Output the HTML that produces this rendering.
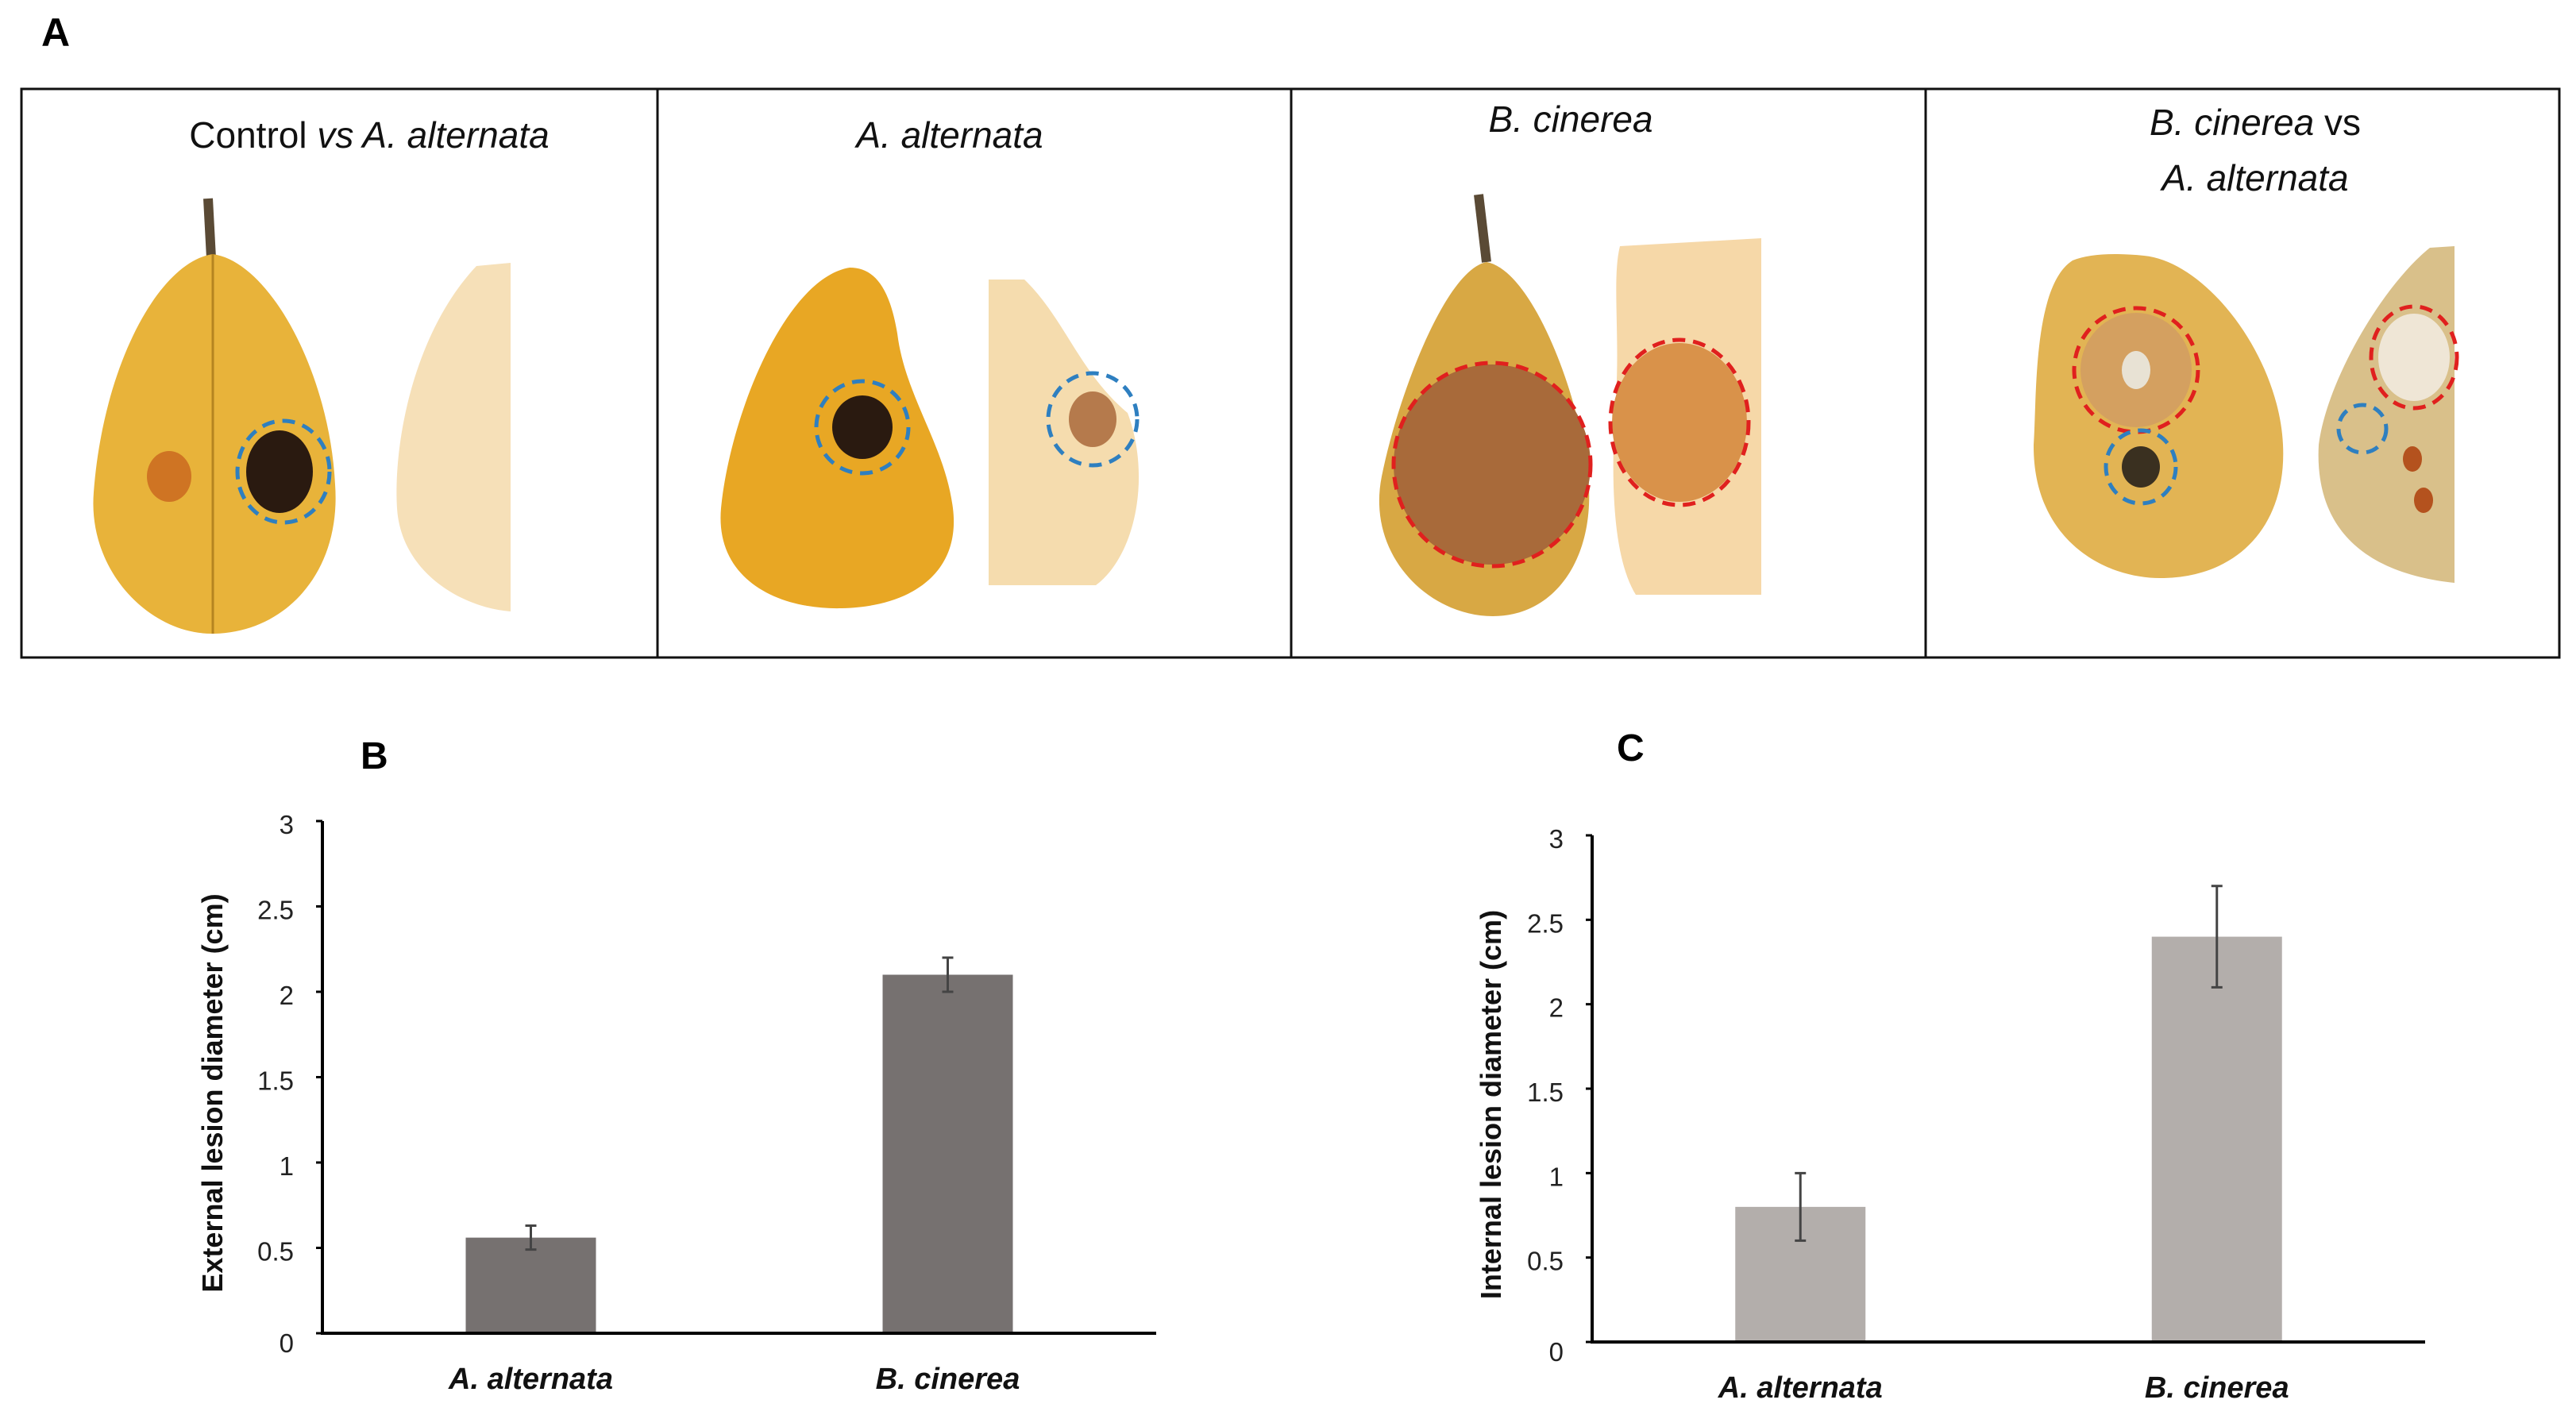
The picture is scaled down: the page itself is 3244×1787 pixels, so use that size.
<!DOCTYPE html>
<html><head><meta charset="utf-8"><style>
html,body{margin:0;padding:0;background:#fff;}
body{width:3244px;height:1782px;overflow:hidden;position:relative;font-family:"Liberation Sans",sans-serif;}
</style></head><body>
<svg id="fig" width="3244" height="1782" viewBox="0 0 3244 1782" xmlns="http://www.w3.org/2000/svg" font-family="Liberation Sans, sans-serif">
<text x="52" y="58" font-size="50" font-weight="bold">A</text>
<g fill="none" stroke="#111" stroke-width="3">
<rect x="27" y="112" width="3196" height="716"/>
<line x1="828" y1="112" x2="828" y2="828"/><line x1="1626" y1="112" x2="1626" y2="828"/><line x1="2425" y1="112" x2="2425" y2="828"/>
</g>
<g font-size="46" fill="#111" text-anchor="middle">
<text x="465" y="186">Control <tspan font-style="italic">vs  A. alternata</tspan></text>
<text x="1196" y="186" font-style="italic">A. alternata</text>
<text x="1978" y="166" font-style="italic">B. cinerea</text>
<text x="2840" y="170"><tspan font-style="italic">B. cinerea</tspan> vs</text>
<text x="2840" y="240" font-style="italic">A. alternata</text>
</g>
<g>
<path d="M262 250 L266 325" stroke="#5a4a35" stroke-width="12" fill="none"/>
<path d="M268 320 C200 330 130 460 118 620 C110 720 190 800 270 798 C360 796 430 720 422 610 C415 470 340 330 268 320Z" fill="#e8b33a"/>
<line x1="268" y1="320" x2="268" y2="798" stroke="#b58420" stroke-width="3"/>
<ellipse cx="213" cy="600" rx="28" ry="32" fill="#c8641e" opacity="0.8"/>
<ellipse cx="352" cy="594" rx="42" ry="52" fill="#2a1a10"/>
<ellipse cx="357" cy="594" rx="58" ry="64" fill="none" stroke="#2e7fc0" stroke-width="5" stroke-dasharray="16 10"/>
<path d="M643 331 L600 335 C520 420 495 560 500 640 C505 720 580 765 643 770Z" fill="#f6e0b8"/>
</g>
<g>
<path d="M1070 337 C990 350 920 520 908 640 C900 730 980 768 1060 766 C1150 764 1210 720 1200 640 C1190 560 1140 500 1130 420 C1120 360 1100 337 1070 337Z" fill="#e8a724"/>
<ellipse cx="1086" cy="538" rx="38" ry="40" fill="#2a1a10"/>
<ellipse cx="1086" cy="538" rx="58" ry="58" fill="none" stroke="#2e7fc0" stroke-width="5" stroke-dasharray="16 10"/>
<path d="M1245 352 L1290 352 C1340 400 1360 470 1420 520 C1450 600 1430 700 1380 737 L1245 737Z" fill="#f5dcae"/>
<ellipse cx="1376" cy="528" rx="30" ry="35" fill="#b57a4c"/>
<ellipse cx="1376" cy="528" rx="56" ry="58" fill="none" stroke="#2e7fc0" stroke-width="5" stroke-dasharray="16 10"/>
</g>
<g>
<path d="M1862 245 L1872 330" stroke="#5a4a35" stroke-width="12" fill="none"/>
<path d="M1872 330 C1820 340 1760 500 1740 600 C1720 700 1800 776 1880 776 C1960 776 2010 700 2000 600 C1990 500 1930 340 1872 330Z" fill="#d8a844"/>
<ellipse cx="1879" cy="585" rx="124" ry="126" fill="#a86a3a"/>
<ellipse cx="1879" cy="585" rx="124" ry="128" fill="none" stroke="#e0201e" stroke-width="5" stroke-dasharray="16 10"/>
<path d="M2040 310 L2218 300 L2218 749 L2060 749 C2030 700 2028 600 2035 500 C2040 420 2030 350 2040 310Z" fill="#f6d8a8"/>
<ellipse cx="2115" cy="532" rx="85" ry="100" fill="#d9924a"/>
<ellipse cx="2115" cy="532" rx="87" ry="104" fill="none" stroke="#e0201e" stroke-width="5" stroke-dasharray="16 10"/>
</g>
<g>
<path d="M2610 328 C2560 360 2565 500 2561 560 C2560 680 2650 728 2720 728 C2820 728 2880 660 2875 560 C2870 450 2780 330 2700 322 C2660 318 2630 320 2610 328Z" fill="#e2b454"/>
<ellipse cx="2690" cy="466" rx="70" ry="72" fill="#d4a060"/>
<ellipse cx="2690" cy="466" rx="18" ry="24" fill="#e8e2d4"/>
<ellipse cx="2690" cy="466" rx="78" ry="78" fill="none" stroke="#e0201e" stroke-width="5" stroke-dasharray="16 10"/>
<ellipse cx="2696" cy="588" rx="24" ry="26" fill="#3a3020"/>
<ellipse cx="2696" cy="588" rx="44" ry="46" fill="none" stroke="#2e7fc0" stroke-width="5" stroke-dasharray="16 10"/>
<path d="M3091 310 L3060 312 C3000 360 2930 480 2920 560 C2915 650 2960 720 3091 734Z" fill="#d9c08a"/>
<ellipse cx="3040" cy="450" rx="45" ry="55" fill="#efe6d6"/>
<ellipse cx="3040" cy="450" rx="54" ry="64" fill="none" stroke="#e0201e" stroke-width="5" stroke-dasharray="16 10"/>
<ellipse cx="2975" cy="540" rx="30" ry="30" fill="none" stroke="#2e7fc0" stroke-width="5" stroke-dasharray="16 10"/>
<ellipse cx="3038" cy="578" rx="12" ry="16" fill="#b4521e"/>
<ellipse cx="3052" cy="630" rx="12" ry="16" fill="#b4521e"/>
</g>
<text x="454" y="968" font-size="48" font-weight="bold">B</text>
<text x="2036" y="958" font-size="48" font-weight="bold">C</text>
<g id="chartB"></g>
<g id="chartC"></g>
</svg>
<script>
const categories = ["A. alternata", "B. cinerea"];
const externalValues = [0.56, 2.1];
const externalErrors = [0.07, 0.1];
const internalValues = [0.8, 2.4];
const internalErrors = [0.2, 0.3];
const yTicks = [0, 0.5, 1, 1.5, 2, 2.5, 3];
const yTickLabels = ["0", "0.5", "1", "1.5", "2", "2.5", "3"];
const NS = "http://www.w3.org/2000/svg";
function mk(parent, tag, attrs) {
  const e = document.createElementNS(NS, tag);
  for (const k in attrs) e.setAttribute(k, attrs[k]);
  parent.appendChild(e);
  return e;
}
function drawChart(g, cfg, values, errors) {
  const y = v => cfg.y0 - (v / 3) * (cfg.y0 - cfg.yTop);
  const x = i => cfg.x0 + (cfg.x1 - cfg.x0) * (i + 0.5) / categories.length;
  const bw = cfg.bw;
  values.forEach((v, i) => {
    const r = mk(g, "rect", {x: x(i) - bw / 2, y: y(v), width: bw, height: cfg.y0 - y(v), fill: cfg.color});
    
    
    const e = mk(g, "path", {d: `M${x(i)} ${y(v + errors[i])}V${y(v - errors[i])}M${x(i) - 7} ${y(v + errors[i])}h14M${x(i) - 7} ${y(v - errors[i])}h14`, stroke: "#444", "stroke-width": 3, fill: "none"});
    
    
    const t = mk(g, "text", {x: x(i), y: cfg.y0 + 70, "font-size": 38, "font-weight": "bold", "font-style": "italic", "text-anchor": "middle", fill: "#111"});
    t.textContent = categories[i];
    
    
  });
  const ax = mk(g, "path", {d: `M${cfg.x0} ${cfg.yTop}V${cfg.y0}H${cfg.x1}`, stroke: "#000", "stroke-width": 4, fill: "none"});
  
  
  yTicks.forEach((v, i) => {
    mk(g, "line", {x1: cfg.x0 - 8, x2: cfg.x0, y1: y(v), y2: y(v), stroke: "#000", "stroke-width": 3});
    const t = mk(g, "text", {x: cfg.x0 - 36, y: y(v) + (i === 0 ? 24 : 16), "font-size": 33, "text-anchor": "end", fill: "#222"});
    t.textContent = yTickLabels[i];
    
    
  });
  const cy = (cfg.yTop + cfg.y0) / 2 + 20;
  const tt = mk(g, "text", {x: cfg.titleX, y: cy, "font-size": 36, "font-weight": "bold", "text-anchor": "middle", fill: "#111", transform: `rotate(-90 ${cfg.titleX} ${cy})`});
  tt.textContent = cfg.title;
  
  
}
drawChart(document.getElementById("chartB"), {x0: 406, x1: 1456, yTop: 1034, y0: 1679, bw: 164, color: "#767170", titleX: 280, title: "External lesion diameter (cm)"}, externalValues, externalErrors);
drawChart(document.getElementById("chartC"), {x0: 2005, x1: 3054, yTop: 1052, y0: 1690, bw: 164, color: "#b3aeab", titleX: 1890, title: "Internal lesion diameter (cm)"}, internalValues, internalErrors);
</script>
</body></html>
